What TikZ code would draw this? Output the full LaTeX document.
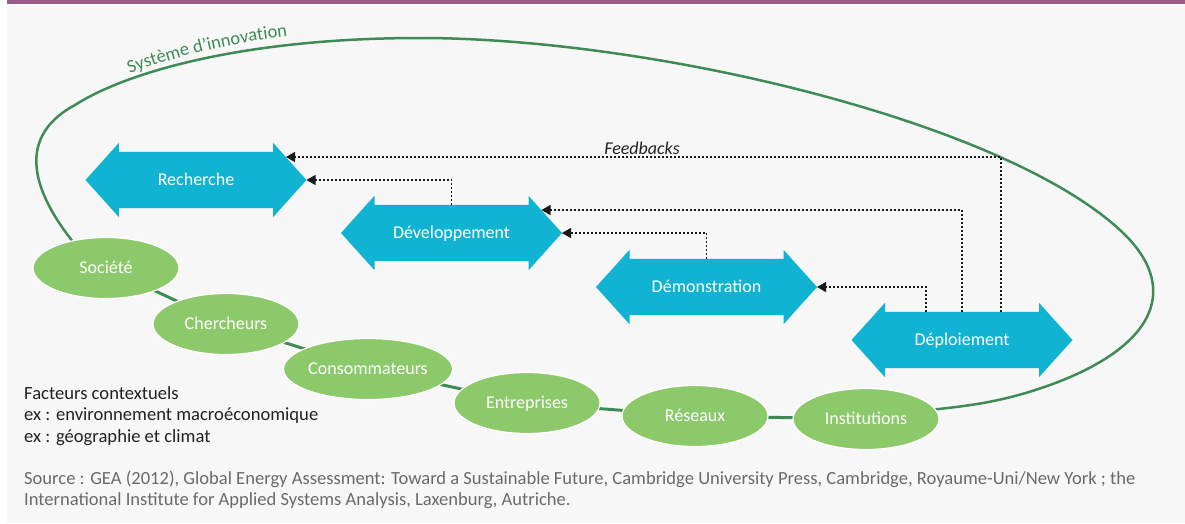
\documentclass[tikz,border=0pt]{standalone}
\usepackage{fontspec}
\setmainfont{Carlito}
\usetikzlibrary{shapes.geometric,shapes.arrows,arrows.meta,calc,decorations.text}
\definecolor{bg}{HTML}{F7F7F7}
\definecolor{bar}{HTML}{9B5A88}
\definecolor{cyanbox}{HTML}{10B4D2}
\definecolor{leaf}{HTML}{8BC96A}
\definecolor{loopgreen}{HTML}{3E8B57}
\definecolor{srcgray}{HTML}{6A6A6A}
\definecolor{ink}{HTML}{222222}
\tikzset{
  phase/.style={shape=double arrow, fill=cyanbox, draw=none,
    double arrow head extend=9pt, double arrow tip angle=96,
    minimum height=221pt, inner ysep=22.5pt, inner xsep=0pt,
    text height=11pt, text depth=0pt, text=white,
    font=\fontsize{18}{20}\selectfont},
  actor/.style={ellipse, fill=leaf, draw=white, line width=1.2pt,
    minimum width=146pt, minimum height=61pt, inner sep=0pt,
    text height=11pt, text depth=0pt, text=white,
    font=\fontsize{18}{20}\selectfont},
  chain/.style={draw=loopgreen, line width=3pt},
  bigloop/.style={draw=loopgreen, line width=2.5pt},
  fb/.style={draw=black!90, line width=1.3pt, dash pattern=on 2pt off 2pt,
    -{Triangle[length=9pt,width=10pt]}},
  plain/.style={anchor=base west, inner sep=0pt, text=ink,
    font=\fontsize{18.6}{21}\selectfont},
  srcline/.style={anchor=base west, inner sep=0pt, text=srcgray,
    font=\fontsize{18.55}{21}\selectfont}
}
\begin{document}
\begin{tikzpicture}[x=1pt,y=-1pt]
\useasboundingbox (0,0) rectangle (1185,523);
\fill[white] (0,0) rectangle (1185,523);
\fill[bg] (7,0) rectangle (1185,523);
\fill[bar] (7,0) rectangle (1185,4);

% big innovation-system loop
\draw[bigloop] (78,248) .. controls (38,200) and (10,140) .. (75,105)
  .. controls (130,70) and (250,38) .. (420,38)
  .. controls (650,38) and (1000,120) .. (1120,230)
  .. controls (1180,285) and (1160,345) .. (1050,385)
  .. controls (1000,403) and (965,406) .. (930,410);

\path[decorate, decoration={text along path,
  text={|\fontsize{18.5}{20}\selectfont\color{loopgreen}|Système d'innovation},
  text align=center}]
  (118,78) .. controls (170,58) and (225,43) .. (300,35);

% actors
\coordinate (socc) at (106,268);
\coordinate (cherc) at (226,324);
\coordinate (consc) at (368,369);
\coordinate (entrc) at (527,403);
\coordinate (resc) at (695,416);
\coordinate (instc) at (866,419);
\draw[chain] (socc) -- (cherc) -- (consc) -- (entrc) -- (resc) -- (instc);
\node[actor] (soc) at (socc) {Société};
\node[actor] (cher) at (cherc) {Chercheurs};
\node[actor] (cons) at (consc) {Consommateurs};
\node[actor] (entr) at (entrc) {Entreprises};
\node[actor] (res) at (resc) {Réseaux};
\node[actor] (inst) at (instc) {Institutions};

% phases
\node[phase] (rech) at (196,180) {Recherche};
\node[phase] (dev) at (451.5,233) {Développement};
\node[phase] (demo) at (706.5,287) {Démonstration};
\node[phase] (depl) at (962,340) {Déploiement};

% feedbacks
\draw[fb] ($(depl.center)+(39,-28)$) |- ($(rech.center)+(90,-23)$);
\draw[fb] ($(dev.center)+(0,-28)$) |- ($(rech.center)+(110.5,0)$);
\draw[fb] ($(depl.center)+(0,-28)$) |- ($(dev.center)+(90,-23)$);
\draw[fb] ($(demo.center)+(0,-28)$) |- ($(dev.center)+(110.5,0)$);
\draw[fb] ($(depl.center)+(-36,-28)$) |- ($(demo.center)+(110.5,0)$);
\node[inner sep=0pt, text=ink, font=\fontsize{18}{20}\selectfont\itshape] (fbl) at (642,148) {Feedbacks};

% contextual factors
\node[plain] (f1) at (24,399) {Facteurs contextuels};
\node[plain] (f2) at (24,420.5) {ex : environnement macroéconomique};
\node[plain] (f3) at (24,442) {ex : géographie et climat};

% source
\node[srcline] (s1) at (24,484) {Source : GEA (2012), Global Energy Assessment: Toward a Sustainable Future, Cambridge University Press, Cambridge, Royaume-Uni/New York ; the};
\node[srcline] (s2) at (24,505) {International Institute for Applied Systems Analysis, Laxenburg, Autriche.};
\end{tikzpicture}
\end{document}
